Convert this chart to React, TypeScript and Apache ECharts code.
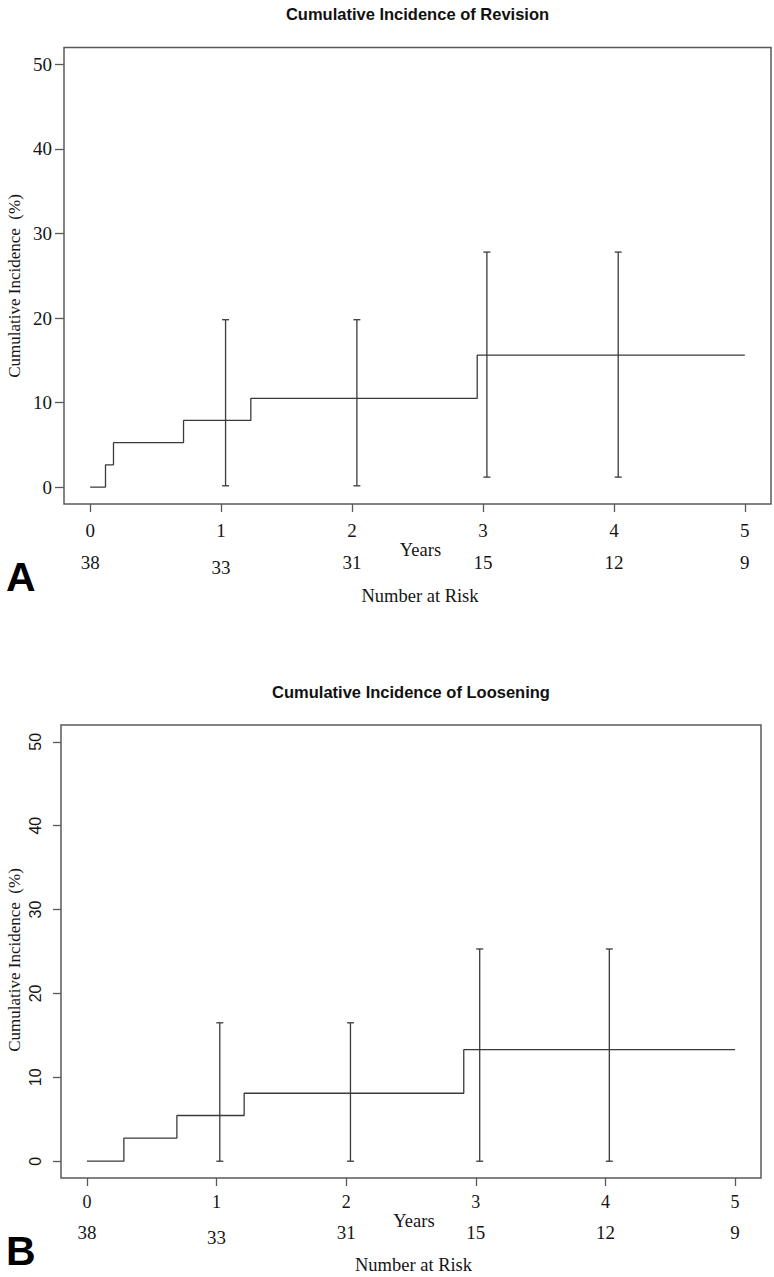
import React, { useEffect, useRef } from "react";
import * as echarts from "echarts";

const yearTicks = [0, 1, 2, 3, 4, 5];
const pctTicks = [0, 10, 20, 30, 40, 50];
const numberAtRisk = [38, 33, 31, 15, 12, 9];

const revisionTimes = [0, 0.117, 0.178, 0.713, 1.227, 2.956, 5.0];
const revisionValues = [0, 2.63, 5.26, 7.89, 10.5, 15.6, 15.6];
const revisionBarX = [1.034, 2.037, 3.03, 4.033];
const revisionBarLow = [0.15, 0.15, 1.18, 1.18];
const revisionBarHigh = [19.8, 19.8, 27.8, 27.8];

const looseningTimes = [0, 0.285, 0.694, 1.213, 2.907, 5.0];
const looseningValues = [0, 2.75, 5.45, 8.1, 13.3, 13.3];
const looseningBarX = [1.025, 2.033, 3.03, 4.03];
const looseningBarLow = [0, 0, 0, 0];
const looseningBarHigh = [16.5, 16.5, 25.3, 25.3];

const LINE = "#3a3a3a";
const BOX = "#595959";
const TXT = "#151515";
const SERIF = "'Liberation Serif', 'Times New Roman', serif";
const SANS = "'Liberation Sans', Arial, sans-serif";

function errorBarRender(params: any, api: any) {
  const x = api.value(0);
  const lo = api.coord([x, api.value(1)]);
  const hi = api.coord([x, api.value(2)]);
  const w = 3.5;
  const style = { stroke: LINE, lineWidth: 1.3 };
  return {
    type: "group",
    children: [
      { type: "line", shape: { x1: lo[0], y1: lo[1], x2: hi[0], y2: hi[1] }, style },
      { type: "line", shape: { x1: lo[0] - w, y1: lo[1], x2: lo[0] + w, y2: lo[1] }, style },
      { type: "line", shape: { x1: hi[0] - w, y1: hi[1], x2: hi[0] + w, y2: hi[1] }, style },
    ],
  };
}

function mainXAxis(gridIndex: number, fontSize: number, margin: number, nameGap: number) {
  return {
    type: "value",
    gridIndex,
    position: "bottom",
    min: -0.2,
    max: 5.2,
    axisLine: { show: false, onZero: false },
    splitLine: { show: false },
    axisTick: {
      show: true,
      length: 8,
      customValues: yearTicks,
      lineStyle: { color: BOX, width: 1.3 },
    },
    axisLabel: {
      customValues: yearTicks,
      margin,
      fontFamily: SERIF,
      fontSize,
      color: TXT,
    },
    name: "Years",
    nameLocation: "middle",
    nameGap,
    nameTextStyle: { fontFamily: SERIF, fontSize: 18.5, color: TXT, padding: [0, 0, 0, 6] },
  };
}

function narXAxis(gridIndex: number, margin: number, nameGap: number) {
  return {
    type: "value",
    gridIndex,
    position: "bottom",
    min: -0.2,
    max: 5.2,
    axisLine: { show: false, onZero: false },
    axisTick: { show: false },
    splitLine: { show: false },
    axisLabel: {
      customValues: yearTicks,
      margin,
      fontFamily: SERIF,
      fontSize: 19,
      color: TXT,
      formatter: (v: number) => {
        const i = Math.round(v);
        const n = numberAtRisk[i];
        return i === 1 ? `{low|${n}}` : `${n}`;
      },
      rich: {
        low: { fontFamily: SERIF, fontSize: 19, color: TXT, padding: [5, 0, 0, 0] },
      },
    },
    name: "Number at Risk",
    nameLocation: "middle",
    nameGap,
    nameTextStyle: { fontFamily: SERIF, fontSize: 18.5, color: TXT, padding: [0, 0, 0, 5] },
  };
}

export default function App() {
  const ref = useRef<HTMLDivElement>(null);

  useEffect(() => {
    if (!ref.current) return;
    const chart = echarts.init(ref.current, null, { renderer: "svg" });

    const option: any = {
      animation: false,
      backgroundColor: "#ffffff",
      grid: [
        { left: 64, top: 47.5, width: 707, height: 456.5, show: true, borderColor: BOX, borderWidth: 1.5, backgroundColor: "transparent" },
        { left: 61, top: 725, width: 700, height: 453, show: true, borderColor: BOX, borderWidth: 1.5, backgroundColor: "transparent" },
      ],
      xAxis: [
        mainXAxis(0, 19, 16.5, 33),
        narXAxis(0, 49, 82),
        mainXAxis(1, 18, 14.5, 29),
        narXAxis(1, 45, 77),
      ],
      yAxis: [
        {
          type: "value",
          gridIndex: 0,
          position: "left",
          min: -2,
          max: 52,
          axisLine: { show: false, onZero: false },
          splitLine: { show: false },
          axisTick: { show: true, length: 9, customValues: pctTicks, lineStyle: { color: BOX, width: 1.3 } },
          axisLabel: { customValues: pctTicks, margin: 12, fontFamily: SERIF, fontSize: 19, color: TXT },
        },
        {
          type: "value",
          gridIndex: 1,
          position: "left",
          min: -2,
          max: 52,
          axisLine: { show: false, onZero: false },
          splitLine: { show: false },
          axisTick: { show: true, length: 8, customValues: pctTicks, lineStyle: { color: BOX, width: 1.3 } },
          axisLabel: { customValues: pctTicks, margin: 18, rotate: 90, fontFamily: SANS, fontSize: 16, color: TXT },
        },
      ],
      series: [
        {
          type: "line",
          xAxisIndex: 0,
          yAxisIndex: 0,
          step: "end",
          symbol: "none",
          lineStyle: { color: LINE, width: 1.3 },
          data: revisionTimes.map((t, i) => [t, revisionValues[i]]),
        },
        {
          type: "custom",
          xAxisIndex: 0,
          yAxisIndex: 0,
          renderItem: errorBarRender,
          encode: { x: 0, y: [1, 2] },
          data: revisionBarX.map((x, i) => [x, revisionBarLow[i], revisionBarHigh[i]]),
        },
        {
          type: "line",
          xAxisIndex: 2,
          yAxisIndex: 1,
          step: "end",
          symbol: "none",
          lineStyle: { color: LINE, width: 1.3 },
          data: looseningTimes.map((t, i) => [t, looseningValues[i]]),
        },
        {
          type: "custom",
          xAxisIndex: 2,
          yAxisIndex: 1,
          renderItem: errorBarRender,
          encode: { x: 0, y: [1, 2] },
          data: looseningBarX.map((x, i) => [x, looseningBarLow[i], looseningBarHigh[i]]),
        },
      ],
      graphic: [
        {
          type: "text",
          x: 417.5,
          y: 13.5,
          style: { text: "Cumulative Incidence of Revision", fontFamily: SANS, fontWeight: "bold", fontSize: 16.5, fill: "#111", textAlign: "center", textVerticalAlign: "middle" },
        },
        {
          type: "text",
          x: 411,
          y: 692,
          style: { text: "Cumulative Incidence of Loosening", fontFamily: SANS, fontWeight: "bold", fontSize: 16.5, fill: "#111", textAlign: "center", textVerticalAlign: "middle" },
        },
        {
          type: "text",
          x: 14,
          y: 286,
          rotation: Math.PI / 2,
          style: { text: "Cumulative Incidence  (%)", fontFamily: SERIF, fontSize: 17, fill: TXT, textAlign: "center", textVerticalAlign: "middle" },
        },
        {
          type: "text",
          x: 14,
          y: 960,
          rotation: Math.PI / 2,
          style: { text: "Cumulative Incidence  (%)", fontFamily: SERIF, fontSize: 17, fill: TXT, textAlign: "center", textVerticalAlign: "middle" },
        },
        {
          type: "text",
          x: 6,
          y: 577,
          style: { text: "A", fontFamily: SANS, fontWeight: "bold", fontSize: 41, fill: "#000", textAlign: "left", textVerticalAlign: "middle" },
        },
        {
          type: "text",
          x: 6,
          y: 1251,
          style: { text: "B", fontFamily: SANS, fontWeight: "bold", fontSize: 41, fill: "#000", textAlign: "left", textVerticalAlign: "middle" },
        },
      ],
    };

    chart.setOption(option);
    return () => chart.dispose();
  }, []);

  return (
    <div
      ref={ref}
      style={{ position: "absolute", left: 0, top: 0, width: 774, height: 1277, background: "#fff" }}
    />
  );
}
